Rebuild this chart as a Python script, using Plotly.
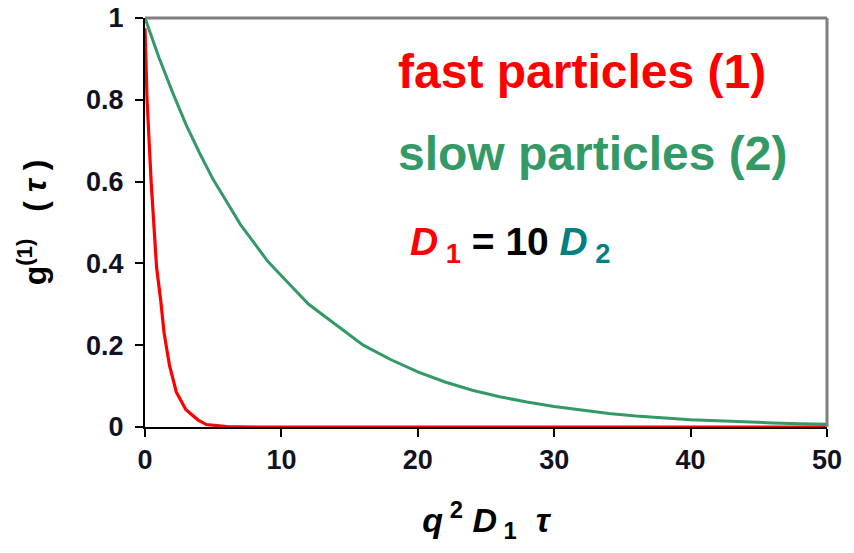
import plotly.graph_objects as go

# Correlation function g(1)(tau) for two particle populations
fast_x = [0, 0.15, 0.45, 0.7, 0.85, 1.15, 1.4, 1.8, 2.3, 3.0, 3.9, 4.5, 6, 8, 50]
fast_y = [0.975, 0.8, 0.6, 0.48, 0.39, 0.31, 0.23, 0.15, 0.085, 0.042, 0.017, 0.006, 0.001, 0.0, 0.0]

slow_x = [0, 1, 2, 3, 4, 5, 6, 7, 8, 9, 10, 12, 14, 16, 18, 20, 22, 24, 26, 28, 30,
          32, 34, 36, 38, 40, 42, 44, 46, 48, 50]
slow_y = [1.0, 0.905, 0.82, 0.74, 0.67, 0.605, 0.55, 0.495, 0.45, 0.405, 0.37,
          0.30, 0.25, 0.20, 0.165, 0.135,
          0.11, 0.09, 0.074, 0.061, 0.05, 0.041, 0.033, 0.027, 0.022, 0.018,
          0.015, 0.012, 0.010, 0.008, 0.007]

x_ticks = [0, 10, 20, 30, 40, 50]
y_ticks = [0, 0.2, 0.4, 0.6, 0.8, 1]
y_tick_text = ["0", "0.2", "0.4", "0.6", "0.8", "1"]

RED = "#ff0000"
GREEN = "#339966"
TEAL = "#008080"
FONT = "Liberation Sans, Arial, sans-serif"

fig = go.Figure()
fig.add_trace(go.Scatter(x=slow_x, y=slow_y, mode="lines",
                         line=dict(color=GREEN, width=3), showlegend=False))
fig.add_trace(go.Scatter(x=fast_x, y=fast_y, mode="lines",
                         line=dict(color=RED, width=3.2), showlegend=False))

axis_common = dict(showgrid=False, zeroline=False, showline=True,
                   linecolor="black", linewidth=2, ticks="outside",
                   ticklen=8, tickwidth=2, tickcolor="black",
                   layer="below traces", automargin=False,
                   tickfont=dict(family=FONT, size=27, color="#111122"))

fig.update_layout(
    width=854, height=553,
    margin=dict(l=145, r=27, t=18, b=126),
    paper_bgcolor="white", plot_bgcolor="white",
    font=dict(family=FONT),
    xaxis=dict(range=[0, 50], tickvals=x_ticks,
               ticktext=[f"<b>{v}</b>" for v in x_ticks],
               title=dict(text="<b><i>q</i><sup> 2</sup> <i>D</i><sub> 1</sub>  <i>τ</i></b>",
                          font=dict(family=FONT, size=34, color="black"),
                          standoff=34),
               **axis_common),
    yaxis=dict(range=[0, 1], tickvals=y_ticks,
               ticktext=[f"<b>{t}</b>" for t in y_tick_text],
               ticklabelstandoff=6,
               title=dict(text="<b>g<sup>(1)</sup>   ( <i>τ</i> )</b>",
                          font=dict(family=FONT, size=32, color="black"),
                          standoff=30),
               **axis_common),
)

# Grey frame on the top and right edges
fig.add_shape(type="line", xref="paper", yref="paper", x0=0, x1=1, y0=1, y1=1,
              line=dict(color="#808080", width=3))
fig.add_shape(type="line", xref="paper", yref="paper", x0=1, x1=1, y0=0, y1=1,
              line=dict(color="#808080", width=3))

fig.add_annotation(x=0.368, y=0.87, xref="paper", yref="paper",
                   xanchor="left", yanchor="middle", showarrow=False,
                   text="<b>fast particles (1)</b>",
                   font=dict(family=FONT, size=48, color=RED))
fig.add_annotation(x=0.368, y=0.668, xref="paper", yref="paper",
                   xanchor="left", yanchor="middle", showarrow=False,
                   text="<b>slow particles (2)</b>",
                   font=dict(family=FONT, size=48, color=GREEN))
fig.add_annotation(x=0.385, y=0.445, xref="paper", yref="paper",
                   xanchor="left", yanchor="middle", showarrow=False,
                   text=(f"<b><i><span style='color:{RED}'>D</span></i>"
                         f"<sub><span style='color:{RED}'> 1</span></sub>"
                         f" = 10 <i><span style='color:{TEAL}'>D</span></i>"
                         f"<sub><span style='color:{TEAL}'> 2</span></sub></b>"),
                   font=dict(family=FONT, size=39, color="black"))

fig.write_html("out.html")
